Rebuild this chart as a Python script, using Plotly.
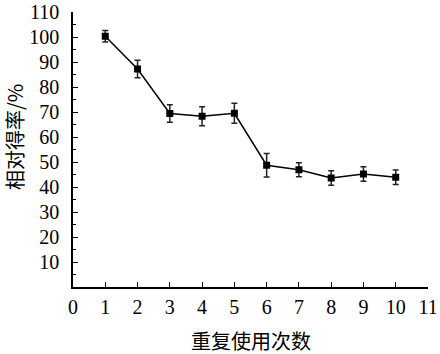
import plotly.graph_objects as go

x_vals = [1, 2, 3, 4, 5, 6, 7, 8, 9, 10]
y_vals = [100.3, 87.2, 69.4, 68.3, 69.5, 48.7, 46.9, 43.6, 45.2, 43.9]
y_err = [2.3, 3.5, 3.5, 3.8, 4.0, 4.7, 2.8, 2.9, 2.9, 2.9]
x_ticks = list(range(0, 12))
y_ticks = list(range(10, 120, 10))

serif = "Liberation Serif"
cjk = "Noto Sans CJK SC"

L, R, T, B = 73, 12, 12, 67
W, H = 440, 354
plot_w = W - L - R
plot_h = H - T - B

fig = go.Figure()
fig.add_trace(go.Scatter(
    x=x_vals, y=y_vals,
    mode="lines+markers",
    line=dict(color="black", width=1.5),
    marker=dict(symbol="square", size=7, color="black"),
    error_y=dict(type="data", array=y_err, visible=True, color="#222", thickness=1.5, width=3),
    showlegend=False,
))

fig.update_layout(
    width=W, height=H,
    margin=dict(l=L, r=R, t=T, b=B, autoexpand=False),
    paper_bgcolor="white", plot_bgcolor="white",
    xaxis=dict(
        range=[0, 11], tickvals=x_ticks, ticktext=[str(v) for v in x_ticks],
        showline=True, linecolor="black", linewidth=1.5,
        ticks="inside", ticklen=5, tickwidth=1.2, tickcolor="black",
        showgrid=False, zeroline=False, automargin=False,
        tickfont=dict(family=serif, size=20, color="black"),
        ticklabelstandoff=1,
    ),
    yaxis=dict(
        range=[0, 110], tickvals=y_ticks, ticktext=[str(v) for v in y_ticks],
        showline=True, linecolor="black", linewidth=1.5,
        ticks="inside", ticklen=5, tickwidth=1.2, tickcolor="black",
        minor=dict(ticks="inside", ticklen=3, tickwidth=1, tickcolor="black", dtick=5, tick0=0),
        showgrid=False, zeroline=False, automargin=False,
        tickfont=dict(family=serif, size=20, color="black"),
        ticklabelstandoff=8,
    ),
    annotations=[
        dict(text="重复使用次数", x=0.5, xref="paper", y=(287 - 340) / plot_h, yref="paper",
             xanchor="center", yanchor="middle",
             showarrow=False, font=dict(family=cjk, size=20, color="black")),
        dict(text="相对得率/%", x=(14 - 73) / plot_w, xref="paper", y=(287 - 137) / plot_h, yref="paper",
             xanchor="center", yanchor="middle",
             showarrow=False, textangle=-90, font=dict(family=cjk, size=20, color="black")),
    ],
)

fig.write_html("out.html")
